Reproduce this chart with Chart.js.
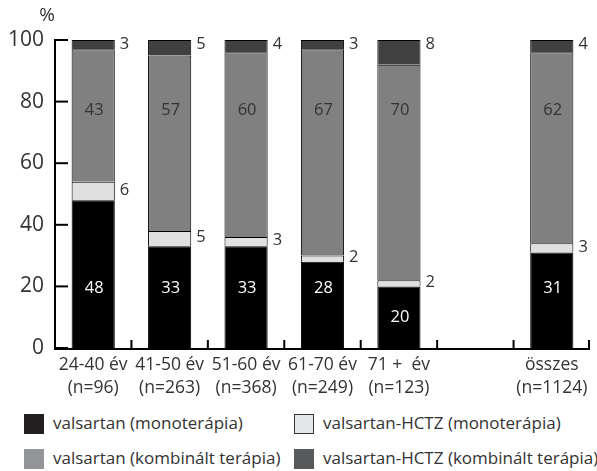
<!DOCTYPE html>
<html><head><meta charset="utf-8">
<script src="https://cdn.jsdelivr.net/npm/chart.js@4/dist/chart.umd.min.js"></script>
<style>
body{margin:0;background:#fff;font-family:"Open Sans",sans-serif;}
#wrap{position:relative;width:597px;height:471px;overflow:hidden;}
#c{position:absolute;left:0;top:0;}
.lg{position:absolute;font-size:17px;color:#333;white-space:nowrap;line-height:20px;}
.bx{position:absolute;width:20px;height:20px;box-sizing:border-box;}
</style></head><body>
<div id="wrap"><canvas id="c" width="597" height="410"></canvas>
<div id="legend"></div></div>
<script>
const categories = [["24-40 év","(n=96)"],["41-50 év","(n=263)"],["51-60 év","(n=368)"],["61-70 év","(n=249)"],["71 +  év","(n=123)"],["",""],["összes","(n=1124)"]];
const valsartanMono = [48,33,33,28,20,null,31];
const hctzMono = [6,5,3,2,2,null,3];
const valsartanKomb = [43,57,60,67,70,null,62];
const hctzKomb = [3,5,4,3,8,null,4];
const seriesNames = ["valsartan (monoterápia)","valsartan-HCTZ (monoterápia)","valsartan (kombinált terápia)","valsartan-HCTZ (kombinált terápia)"];
const yTicks = [0,20,40,60,80,100];

const barColors = ["#000000","#e0e0e0","#808080","#404040"];
const legendColors = ["#231f20","#e6e7e8","#939598","#58595b"];

const FONT = '"Open Sans", sans-serif';

const decor = {
  id:'decor',
  afterDatasetsDraw(chart){
    const ctx = chart.ctx, ca = chart.chartArea, y = chart.scales.y;
    ctx.save();
    ctx.strokeStyle='#000'; ctx.lineWidth=2;
    ctx.beginPath(); ctx.moveTo(ca.left, y.getPixelForValue(100)-1); ctx.lineTo(ca.left, ca.bottom+1); ctx.lineTo(ca.right, ca.bottom+1); ctx.stroke();
    yTicks.forEach(v=>{const py=y.getPixelForValue(v); ctx.beginPath(); ctx.moveTo(ca.left,py); ctx.lineTo(ca.left+13,py); ctx.stroke();});
    const n = categories.length, w=(ca.right-ca.left)/n;
    for(let i=1;i<=n;i++){const px=ca.left+w*i - (i===n?1:0); ctx.beginPath(); ctx.moveTo(px,ca.bottom+1); ctx.lineTo(px,ca.bottom-8); ctx.stroke();}
    ctx.fillStyle='#333'; ctx.font='19px '+FONT; ctx.textAlign='center'; ctx.textBaseline='middle';
    ctx.fillText('%', ca.left-8, 16);
    ctx.font='16.5px '+FONT;
    const m0=chart.getDatasetMeta(0);
    for(let i=0;i<n;i++){
      if(valsartanMono[i]==null) continue;
      const bar=m0.data[i]; const bx=bar.x, half=bar.width/2;
      const v0=valsartanMono[i];
      ctx.textAlign='center'; ctx.fillStyle='#fff';
      ctx.fillText(String(v0), bx+1, y.getPixelForValue(v0>=25?19.3:v0/2));
      ctx.fillStyle='#333';
      ctx.fillText(String(valsartanKomb[i]), bx+1, y.getPixelForValue(77.3));
      ctx.textAlign='left';
      const s1=v0+hctzMono[i]/2;
      ctx.fillText(String(hctzMono[i]), bx+half+5, y.getPixelForValue(s1)-1);
      ctx.fillText(String(hctzKomb[i]), bx+half+5, y.getPixelForValue(98.5));
    }
    ctx.restore();
  }
};

new Chart(document.getElementById('c'),{
  type:'bar',
  data:{
    labels:categories,
    datasets:[valsartanMono,hctzMono,valsartanKomb,hctzKomb].map((d,i)=>({
      label:seriesNames[i], data:d, backgroundColor:barColors[i], borderColor:'#000', borderWidth:1,
      barPercentage:0.565, categoryPercentage:1.0
    }))
  },
  options:{
    responsive:false, animation:false,
    layout:{padding:{left:0,right:7,top:40,bottom:0}},
    plugins:{legend:{display:false},tooltip:{enabled:false}},
    scales:{
      x:{stacked:true, grid:{display:false,drawTicks:false}, border:{display:false},
         ticks:{color:'#333', font:{family:FONT,size:17.5,lineHeight:1.3}, padding:6, maxRotation:0, autoSkip:false},
         afterFit:s=>{s.height=62;}},
      y:{stacked:true, min:0, max:100, grid:{display:false,drawTicks:false}, border:{display:false},
         afterBuildTicks:s=>{s.ticks=yTicks.map(v=>({value:v}));},
         ticks:{color:'#333', font:{family:FONT,size:21}, padding:11},
         afterFit:s=>{s.width=55;}}
    }
  },
  plugins:[decor]
});

const lg=document.getElementById('legend');
const pos=[[24,414],[294,414],[24,449],[294,449]];
seriesNames.forEach((n,i)=>{
  const b=document.createElement('div'); b.className='bx';
  b.style.left=pos[i][0]+'px'; b.style.top=pos[i][1]+'px'; b.style.background=legendColors[i];
  if(i===1) b.style.border='1.5px solid #333';
  lg.appendChild(b);
  const t=document.createElement('div'); t.className='lg'; t.textContent=n;
  t.style.left=(pos[i][0]+29)+'px'; t.style.top=(pos[i][1]-1)+'px';
  lg.appendChild(t);
});
</script>
</body></html>
